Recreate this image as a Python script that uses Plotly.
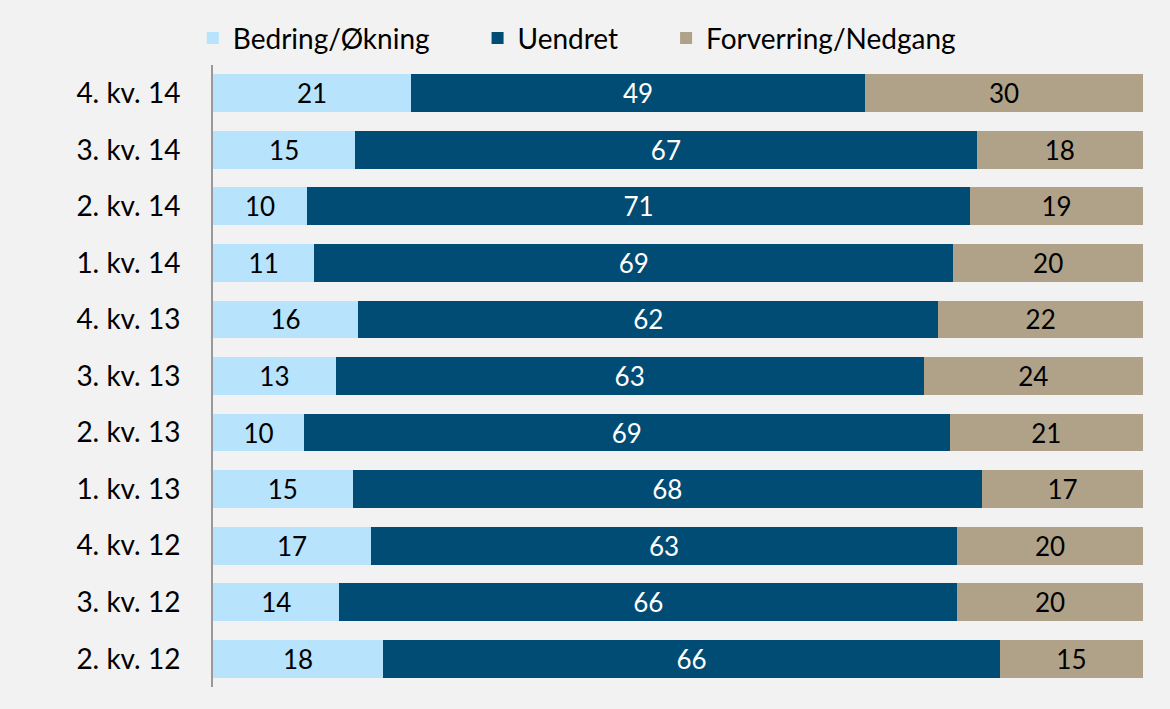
import plotly.graph_objects as go

categories = ["4. kv. 14", "3. kv. 14", "2. kv. 14", "1. kv. 14", "4. kv. 13", "3. kv. 13",
              "2. kv. 13", "1. kv. 13", "4. kv. 12", "3. kv. 12", "2. kv. 12"]
bedring = [21.3, 15.3, 10.1, 10.9, 15.6, 13.2, 9.8, 15.0, 17.0, 13.6, 18.3]
uendret = [48.8, 66.8, 71.3, 68.7, 62.4, 63.2, 69.4, 67.7, 63.0, 66.4, 66.3]
forverring = [29.9, 17.9, 18.6, 20.4, 22.0, 23.6, 20.8, 17.3, 20.0, 20.0, 15.4]

PAD = "\u00a0" * 6
series = [
    ("Bedring/Økning" + PAD, bedring, "#b8e3fc", "#000000"),
    ("Uendret" + PAD, uendret, "#004c75", "#ffffff"),
    ("Forverring/Nedgang", forverring, "#b0a288", "#000000"),
]

FONT = "Lato, 'Open Sans', sans-serif"

fig = go.Figure()
for name, vals, color, tcolor in series:
    fig.add_trace(go.Bar(
        y=categories, x=vals, name=name, orientation="h",
        marker=dict(color=color, line=dict(width=0)),
        texttemplate="%{x:.0f}", textposition="inside", insidetextanchor="middle",
        textangle=0, constraintext="none",
        textfont=dict(color=tcolor, size=26, family=FONT),
        hoverinfo="skip",
    ))

fig.update_layout(
    barmode="stack",
    bargap=0.33,
    width=1170, height=709,
    paper_bgcolor="#f2f2f2", plot_bgcolor="#f2f2f2",
    margin=dict(l=213, r=27, t=65, b=22, autoexpand=False),
    font=dict(family=FONT, size=28, color="#000000"),
    showlegend=True,
    legend=dict(orientation="h", xref="container", yref="container",
                x=0.493, xanchor="center", y=0.946, yanchor="middle",
                font=dict(size=28, family=FONT), itemsizing="constant",
                itemwidth=30,
                bgcolor="rgba(0,0,0,0)", traceorder="normal"),
    uniformtext=dict(mode=False),
)
fig.update_xaxes(range=[0, 100], visible=False, fixedrange=True)
fig.update_yaxes(categoryorder="array", categoryarray=categories, autorange="reversed",
                 showline=True, linecolor="#999999", linewidth=2,
                 showgrid=False, zeroline=False, ticks="", ticklabelstandoff=25,
                 tickfont=dict(size=28, family=FONT, color="#000000"))

fig.write_html("out.html")
